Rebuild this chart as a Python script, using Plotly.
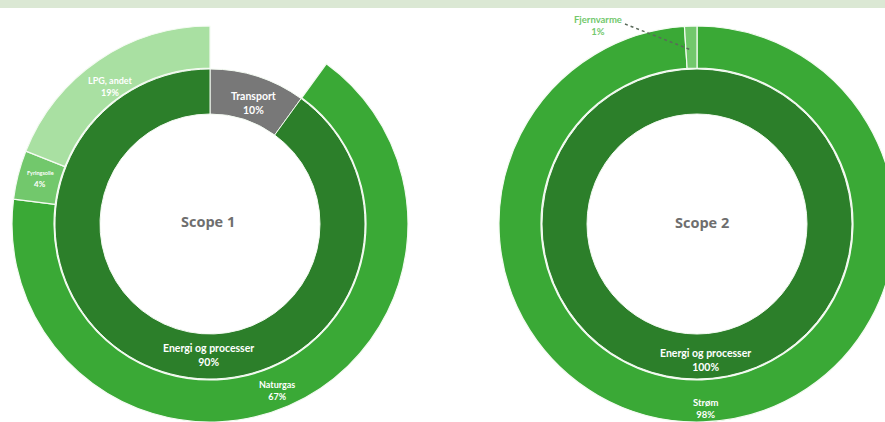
import math
import plotly.graph_objects as go

# Canvas size in px (the right-hand ring runs past the visible right edge)
W, H = 905, 422

# ---- Scope 1 ----
s1_inner_labels = ["Transport", "Energi og processer"]
s1_inner_values = [10, 90]
s1_outer_labels = ["", "Naturgas", "Fyringsolie", "LPG, andet"]
s1_outer_values = [10, 67, 4, 19]

# ---- Scope 2 ----
s2_inner_labels = ["Energi og processer"]
s2_inner_values = [100]
s2_outer_labels = ["Strøm", "Fjernvarme"]
s2_outer_values = [98, 1]

titles = ["Scope 1", "Scope 2"]

# colours
DARK = "#2c7f2a"
MID = "#3aa936"
LIGHT = "#a9e0a2"
PALE = "#72c86c"
GREY = "#787878"
BLANK = "rgba(0,0,0,0)"

# ring geometry (px)
CENTERS = [(210, 224), (697, 224)]
R_HOLE, R_INNER, R_OUTER_HOLE, R_OUTER = 110, 155, 156, 198


def domain(cx, cy, r):
    x0, x1 = (cx - r) / W, (cx + r) / W
    y0, y1 = (H - cy - r) / H, (H - cy + r) / H
    clamp = lambda v: min(1.0, max(0.0, v))
    return dict(x=[clamp(x0), clamp(x1)], y=[clamp(y0), clamp(y1)])


def px(x, y):
    return x / W, 1 - y / H


def slice_point(values, idx, center, r):
    total = sum(values)
    frac = (sum(values[:idx]) + values[idx] / 2) / total
    th = 2 * math.pi * frac
    return center[0] + r * math.sin(th), center[1] - r * math.cos(th)


fig = go.Figure()

common = dict(sort=False, direction="clockwise", rotation=0,
              textinfo="none", hoverinfo="skip", showlegend=False)
SEP = "#f4fbf2"

# Scope 1 rings
fig.add_trace(go.Pie(labels=s1_inner_labels, values=s1_inner_values,
                     hole=R_HOLE / R_INNER, domain=domain(*CENTERS[0], R_INNER),
                     marker=dict(colors=[GREY, DARK], line=dict(color=SEP, width=1)),
                     **common))
fig.add_trace(go.Pie(labels=s1_outer_labels, values=s1_outer_values,
                     hole=R_OUTER_HOLE / R_OUTER, domain=domain(*CENTERS[0], R_OUTER),
                     marker=dict(colors=[BLANK, MID, PALE, LIGHT],
                                 line=dict(color=SEP, width=[0, 1.2, 1.2, 1.2])),
                     **common))

# Scope 2 rings
fig.add_trace(go.Pie(labels=s2_inner_labels, values=s2_inner_values,
                     hole=R_HOLE / R_INNER, domain=domain(*CENTERS[1], R_INNER),
                     marker=dict(colors=[DARK], line=dict(color=SEP, width=1)),
                     **common))
fig.add_trace(go.Pie(labels=s2_outer_labels, values=s2_outer_values,
                     hole=R_OUTER_HOLE / R_OUTER, domain=domain(*CENTERS[1], R_OUTER),
                     marker=dict(colors=[MID, PALE], line=dict(color=SEP, width=1.2)),
                     **common))

LBL = "Lato"
annotations = []


def label(x, y, text, size, color="white", family=LBL):
    xp, yp = px(x, y)
    annotations.append(dict(x=xp, y=yp, xref="paper", yref="paper", text=text,
                            showarrow=False, xanchor="center", yanchor="middle",
                            font=dict(family=family, size=size, color=color)))


def two_line(name, value):
    return f"<b>{name}</b><br><b>{value}%</b>"


# Scope 1 labels
label(253, 103, two_line(s1_inner_labels[0], s1_inner_values[0]), 10.5)
label(208, 355, two_line(s1_inner_labels[1], s1_inner_values[1]), 10.5)
label(277, 390, two_line(s1_outer_labels[1], s1_outer_values[1]), 9)
label(40, 173, f"<b>{s1_outer_labels[2]}</b>", 5.5)
label(40, 184, f"<b>{s1_outer_values[2]}%</b>", 8)
label(110, 86, two_line(s1_outer_labels[3], s1_outer_values[3]), 9)

# Scope 2 labels
label(705, 360, two_line(s2_inner_labels[0], s2_inner_values[0]), 10.5)
label(705, 408, two_line(s2_outer_labels[0], s2_outer_values[0]), 9.5)
label(598, 25, two_line(s2_outer_labels[1], s2_outer_values[1]), 9.5, color=PALE)

# centre titles
label(208, 221, f"<b>{titles[0]}</b>", 14.5, color="#6e6e6e", family="Open Sans")
label(702, 223, f"<b>{titles[1]}</b>", 14.5, color="#6e6e6e", family="Open Sans")

# dotted leader from the Fjernvarme label to its slice
lx, ly = slice_point(s2_outer_values, 1, CENTERS[1], 174)
x0p, y0p = px(625, 24)
x1p, y1p = px(lx, ly)
shapes = [
    dict(type="rect", xref="paper", yref="paper", x0=0, x1=1, y0=1 - 8 / H, y1=1,
         fillcolor="#dbe8d4", line=dict(width=0), layer="below"),
    dict(type="line", xref="paper", yref="paper", x0=x0p, y0=y0p, x1=x1p, y1=y1p,
         line=dict(color="#5a6a5a", width=1.5, dash="dot")),
]

fig.update_layout(width=W, height=H, autosize=False,
                  margin=dict(l=0, r=0, t=0, b=0, pad=0),
                  paper_bgcolor="white", plot_bgcolor="white",
                  annotations=annotations, shapes=shapes)

fig.write_html("out.html")
